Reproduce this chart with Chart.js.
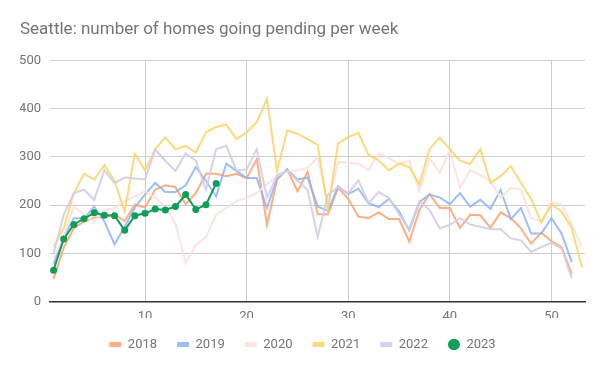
<!DOCTYPE html>
<html>
<head>
<meta charset="utf-8">
<script src="https://cdn.jsdelivr.net/npm/chart.js@4"></script>
<style>
  html, body { margin: 0; padding: 0; background: #fff; }
  #wrap { width: 600px; height: 371px; }
</style>
</head>
<body>
<div id="wrap"><canvas id="pendingChart"></canvas></div>
<script>
Chart.defaults.font.family = "Roboto";
Chart.defaults.color = "#757575";

const weeks = [1, 2, 3, 4, 5, 6, 7, 8, 9, 10, 11, 12, 13, 14, 15, 16, 17, 18, 19, 20,
  21, 22, 23, 24, 25, 26, 27, 28, 29, 30, 31, 32, 33, 34, 35, 36, 37, 38, 39, 40,
  41, 42, 43, 44, 45, 46, 47, 48, 49, 50, 51, 52, 53];

const y2018 = [47, 112, 152, 166, 174, 176, 181, 167, 201, 195, 232, 241, 237, 202, 225, 265, 265, 260, 265, 256,
  295, 159, 253, 274, 229, 269, 181, 181, 236, 213, 176, 173, 185, 171, 171, 124, 190, 223, 194, 194,
  153, 180, 179, 153, 185, 173, 152, 120, 143, 125, 113, 57];
const y2019 = [78, 134, 173, 173, 197, 166, 119, 155, 195, 222, 246, 227, 227, 241, 279, 250, 218, 286, 271, 256,
  256, 194, 256, 274, 253, 257, 197, 188, 239, 223, 234, 204, 196, 213, 187, 148, 206, 222, 216, 202,
  225, 197, 211, 192, 232, 171, 194, 141, 141, 173, 141, 82];
const y2020 = [90, 135, 197, 180, 166, 190, 194, 208, 218, 229, 215, 197, 162, 80, 117, 134, 180, 194, 208, 215,
  225, 243, 260, 271, 272, 278, 299, 201, 290, 288, 286, 272, 307, 298, 285, 293, 229, 298, 267, 313,
  236, 272, 262, 250, 215, 236, 232, 173, 166, 206, 201, 159, 113];
const y2021 = [113, 152, 225, 265, 253, 283, 250, 187, 307, 272, 316, 340, 316, 323, 309, 351, 362, 367, 337, 351,
  372, 420, 271, 355, 348, 337, 325, 190, 328, 341, 350, 304, 293, 272, 286, 279, 243, 316, 340, 316,
  292, 285, 316, 246, 260, 281, 246, 213, 164, 202, 187, 152, 71];
const y2022 = [99, 180, 225, 232, 211, 272, 246, 257, 255, 253, 315, 292, 271, 307, 292, 232, 316, 323, 272, 274,
  316, 215, 262, 271, 251, 232, 134, 222, 237, 225, 251, 204, 227, 215, 181, 150, 208, 190, 152, 159,
  173, 160, 155, 150, 150, 131, 127, 103, 113, 122, 110, 48];
const y2023 = [65, 130, 160, 172, 184, 179, 178, 148, 178, 183, 192, 190, 197, 222, 191, 201, 245];

const yTicks = [0, 100, 200, 300, 400, 500];
const xTicks = [10, 20, 30, 40, 50];

const toPoints = arr => arr.map((v, i) => ({ x: weeks[i], y: v }));

function yearSet(label, values, color, order) {
  return {
    label,
    data: toPoints(values),
    borderColor: color,
    backgroundColor: color,
    borderWidth: 2,
    pointRadius: 0,
    tension: 0,
    order
  };
}

const datasets = [
  yearSet("2018", y2018, "rgba(255,160,105,0.85)", 5),
  yearSet("2019", y2019, "rgba(140,180,246,0.85)", 4),
  yearSet("2020", y2020, "rgba(251,226,224,0.9)", 3),
  yearSet("2021", y2021, "rgba(252,212,100,0.85)", 2),
  yearSet("2022", y2022, "rgba(212,204,232,0.9)", 1),
  {
    label: "2023",
    data: toPoints(y2023),
    borderColor: "#0f9d58",
    backgroundColor: "#0f9d58",
    borderWidth: 2,
    pointRadius: 3.5,
    pointBorderWidth: 0,
    tension: 0,
    order: 0
  }
];

new Chart(document.getElementById("pendingChart"), {
  type: "line",
  data: { datasets },
  options: {
    responsive: true,
    maintainAspectRatio: false,
    animation: false,
    layout: { padding: { left: 20, right: 15, top: 0, bottom: 10 } },
    plugins: {
      tooltip: { enabled: false },
      title: {
        display: true,
        text: "Seattle: number of homes going pending per week",
        align: "start",
        color: "#757575",
        font: { size: 17, weight: "normal" },
        padding: { top: 20, bottom: 20 }
      },
      legend: {
        position: "bottom",
        labels: {
          usePointStyle: true,
          pointStyleWidth: 12,
          boxHeight: 8,
          padding: 20,
          color: "#757575",
          font: { size: 13 },
          generateLabels: chart => chart.data.datasets.map((ds, i) => ({
            text: ds.label,
            fillStyle: ds.borderColor,
            strokeStyle: ds.borderColor,
            lineWidth: ds.label === "2023" ? 0 : 5,
            pointStyle: ds.label === "2023" ? "circle" : "line",
            fontColor: "#757575",
            hidden: false,
            datasetIndex: i
          }))
        }
      }
    },
    scales: {
      x: {
        type: "linear",
        min: 0.65,
        max: 53.3,
        afterBuildTicks: scale => { scale.ticks = xTicks.map(v => ({ value: v })); },
        afterFit: scale => { scale.height = 16.4; },
        ticks: { padding: 7, color: "#757575", font: { size: 13 } },
        grid: { color: "#cccccc", drawTicks: false },
        border: { color: "#333333", width: 1.5 }
      },
      y: {
        min: 0,
        max: 500,
        afterBuildTicks: scale => { scale.ticks = yTicks.map(v => ({ value: v })); },
        afterFit: scale => { scale.width = 30; },
        ticks: { padding: 9, color: "#757575", font: { size: 13 } },
        grid: { color: "#cccccc", drawTicks: false },
        border: { display: false }
      }
    }
  }
});
</script>
</body>
</html>
